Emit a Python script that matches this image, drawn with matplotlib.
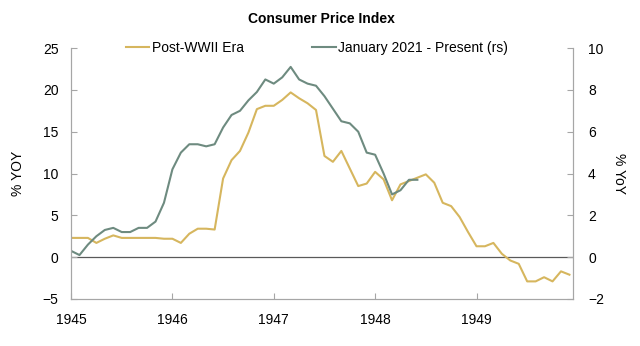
import matplotlib
matplotlib.use('agg')
from matplotlib import pyplot as plt
import numpy

plt.rcParams['font.family'] = ['Liberation Sans', 'DejaVu Sans']

# CPI % YoY, monthly Jan 1945 - Dec 1949 (left scale)
postwar = [2.3, 2.3, 2.3, 1.7, 2.2, 2.6, 2.3, 2.3, 2.3, 2.3, 2.3, 2.2,
           2.2, 1.7, 2.8, 3.4, 3.4, 3.3, 9.4, 11.6, 12.7, 14.9, 17.7, 18.1,
           18.1, 18.8, 19.7, 19.0, 18.4, 17.6, 12.1, 11.4, 12.7, 10.6, 8.5, 8.8,
           10.2, 9.3, 6.8, 8.7, 9.1, 9.5, 9.9, 8.9, 6.5, 6.1, 4.8, 3.0,
           1.3, 1.3, 1.7, 0.4, -0.4, -0.8, -2.9, -2.9, -2.4, -2.9, -1.7, -2.1]

# recent episode, % YoY (right scale)
recent = [0.3, 0.1, 0.6, 1.0, 1.3, 1.4, 1.2, 1.2, 1.4, 1.4, 1.7, 2.6,
          4.2, 5.0, 5.4, 5.4, 5.3, 5.4, 6.2, 6.8, 7.0, 7.5, 7.9, 8.5,
          8.3, 8.6, 9.1, 8.5, 8.3, 8.2, 7.7, 7.1, 6.5, 6.4, 6.0, 5.0,
          4.9, 4.0, 3.0, 3.2, 3.7, 3.7]

years = ['1945', '1946', '1947', '1948', '1949']

gold = '#D6B65E'
green = '#6E8B80'
axcol = '#A6A6A6'

fig = plt.figure(figsize=(6.4, 3.46), dpi=100)
ax = fig.add_axes([0.111, 0.136, 0.784, 0.725])
ax2 = ax.twinx()

l1, = ax.plot(numpy.arange(len(postwar)), postwar, color=gold, lw=1.5)
l2, = ax2.plot(numpy.arange(len(recent)), recent, color=green, lw=1.5)
ax.axhline(0, color='#595959', lw=0.9, zorder=1)

ax.set_xlim(0, 59.4)
ax.set_ylim(-5, 25)
ax2.set_ylim(-2, 10)
ax.set_yticks(range(-5, 26, 5))
ax2.set_yticks(range(-2, 11, 2))
ax.set_xticks([0, 12, 24, 36, 48])
ax.set_xticklabels(years)

for a in (ax, ax2):
    for s in a.spines.values():
        s.set_color(axcol)
    a.spines['top'].set_visible(False)
    a.tick_params(direction='in', length=4, color=axcol, labelsize=10)
ax.tick_params(axis='y', pad=9)
ax2.tick_params(axis='y', pad=11)
ax.tick_params(axis='x', pad=10)

ax.set_ylabel('% YOY', fontsize=10, labelpad=13)
ax2.set_ylabel('% YoY', fontsize=10, rotation=270, labelpad=16)

ax.set_title('Consumer Price Index', fontsize=10, fontweight='bold', pad=18)
ax.legend([l1, l2], ['Post-WWII Era', 'January 2021 - Present (rs)'],
          loc='lower center', bbox_to_anchor=(0.49, 0.952), ncol=2, frameon=False,
          fontsize=10, handlelength=1.7, handletextpad=0.2, columnspacing=4.9,
          borderaxespad=0)

fig.savefig('out.png', dpi=100)
